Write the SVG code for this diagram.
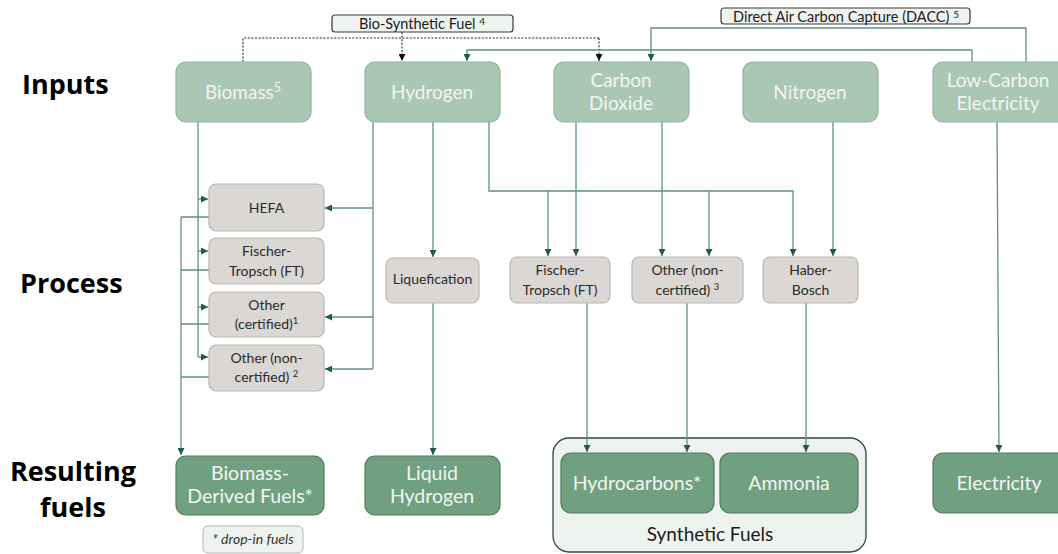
<svg xmlns="http://www.w3.org/2000/svg" width="1058" height="554" viewBox="0 0 1058 554">
<defs>
<marker id="arr" markerUnits="userSpaceOnUse" markerWidth="8" markerHeight="7" refX="7" refY="3.5" orient="auto">
<path d="M0,0 L7,3.5 L0,7 z" fill="#1f5a4f"/>
</marker>
<marker id="arrk" markerUnits="userSpaceOnUse" markerWidth="8" markerHeight="7" refX="7" refY="3.5" orient="auto">
<path d="M0,0 L7,3.5 L0,7 z" fill="#111"/>
</marker>
<style>
.row{font-family:"Open Sans",sans-serif;font-weight:bold;font-size:27px;fill:#000}
.in rect{fill:#a9c7b3;stroke:#94b49f;stroke-width:1.2}
.in text{font-family:Lato,"Liberation Sans",sans-serif;font-size:19px;fill:#f1f6f2;text-anchor:middle}
.pr rect{fill:#dbd7d4;stroke:#bab5b0;stroke-width:1.2}
.pr text{font-family:Lato,"Liberation Sans",sans-serif;font-size:14px;fill:#2a2a2a;text-anchor:middle}
.out rect{fill:#71a081;stroke:#4d7c5c;stroke-width:1.2}
.out text{font-family:Lato,"Liberation Sans",sans-serif;font-size:19.5px;fill:#f1f6f2;text-anchor:middle}
.lab rect{fill:#eef3ef;stroke:#3a3a3a;stroke-width:1.2}
.lab text{font-family:Lato,"Liberation Sans",sans-serif;font-size:14.5px;fill:#1a1a1a;text-anchor:middle}
.c{fill:none;stroke:#5e9185;stroke-width:1.3}
.ca{fill:none;stroke:#5e9185;stroke-width:1.3;marker-end:url(#arr)}
.d{fill:none;stroke:#222;stroke-width:1.1;stroke-dasharray:2,1.6}
.da{fill:none;stroke:#222;stroke-width:1.1;stroke-dasharray:2,1.6;marker-end:url(#arrk)}
</style>
</defs>
<rect width="1058" height="554" fill="#fff"/>

<g id="row-labels">
<text class="row" x="22" y="94">Inputs</text>
<text class="row" x="20" y="293">Process</text>
<text class="row" x="73" y="481" text-anchor="middle" font-size="26">Resulting</text>
<text class="row" x="73" y="517" text-anchor="middle" font-size="26">fuels</text>
</g>

<g id="container-synthetic">
<rect x="553" y="438" width="313" height="114" rx="16" fill="#eef3ef" stroke="#2d4a3a" stroke-width="1.3"/>
<text x="710" y="541" font-family="Lato,'Liberation Sans',sans-serif" font-size="19" fill="#1a1a1a" text-anchor="middle">Synthetic Fuels</text>
</g>

<g id="connectors">
<path class="d" d="M243,62 V38 H599"/>
<path class="da" d="M599,38 V61"/>
<path class="da" d="M402,32 V61"/>
<path class="ca" d="M1026,62 V28 H651 V61"/>
<path class="ca" d="M972,62 V50 H467 V61"/>
<path class="c" d="M198,122 V357"/>
<path class="ca" d="M198,199 H208"/>
<path class="ca" d="M198,251 H208"/>
<path class="ca" d="M198,307 H208"/>
<path class="ca" d="M198,357 H208"/>
<path class="c" d="M209,217 H181 M209,270 H181 M209,324 H181 M209,377 H181"/>
<path class="ca" d="M181,217 V455"/>
<path class="c" d="M373,122 V369"/>
<path class="ca" d="M373,208 H325"/>
<path class="ca" d="M373,317 H325"/>
<path class="ca" d="M373,369 H325"/>
<path class="ca" d="M433,122 V257"/>
<path class="ca" d="M433,303 V455"/>
<path class="ca" d="M489,122 V191 H793 V256"/>
<path class="ca" d="M548,191 V256"/>
<path class="ca" d="M709,191 V256"/>
<path class="ca" d="M576,122 V256"/>
<path class="ca" d="M662,122 V256"/>
<path class="ca" d="M833,122 V256"/>
<path class="ca" d="M997,122 L999,452"/>
<path class="ca" d="M587,303 V452"/>
<path class="ca" d="M687,303 V452"/>
<path class="ca" d="M806,303 V452"/>
</g>

<g id="label-biosynthetic" class="lab">
<rect x="332" y="15" width="181" height="17" rx="3"/>
<text x="422" y="28.5">Bio-Synthetic Fuel <tspan font-size="10" dy="-4">4</tspan></text>
</g>
<g id="label-dacc" class="lab">
<rect x="721" y="8" width="249" height="16" rx="3"/>
<text x="846" y="21.5">Direct Air Carbon Capture (DACC) <tspan font-size="10" dy="-4">5</tspan></text>
</g>

<g id="biomass" class="in"><rect x="176" y="62" width="135" height="60" rx="10"/><text x="243" y="99">Biomass<tspan font-size="12.5" dy="-7">5</tspan></text></g>
<g id="hydrogen" class="in"><rect x="365" y="62" width="135" height="60" rx="10"/><text x="432" y="99">Hydrogen</text></g>
<g id="carbon-dioxide" class="in"><rect x="554" y="62" width="135" height="60" rx="10"/><text x="621" y="87">Carbon</text><text x="621" y="110">Dioxide</text></g>
<g id="nitrogen" class="in"><rect x="743" y="62" width="135" height="60" rx="10"/><text x="810" y="99">Nitrogen</text></g>
<g id="low-carbon-electricity" class="in"><rect x="933" y="62" width="135" height="60" rx="10"/><text x="998" y="87">Low-Carbon</text><text x="998" y="110">Electricity</text></g>

<g id="hefa" class="pr"><rect x="209" y="184" width="115" height="47" rx="7"/><text x="266.5" y="213">HEFA</text></g>
<g id="ft-bio" class="pr"><rect x="209" y="238" width="115" height="46" rx="7"/><text x="266.5" y="256">Fischer-</text><text x="266.5" y="276">Tropsch (FT)</text></g>
<g id="other-cert" class="pr"><rect x="209" y="292" width="115" height="45" rx="7"/><text x="266.5" y="310">Other</text><text x="266.5" y="329">(certified)<tspan font-size="9.5" dy="-5">1</tspan></text></g>
<g id="other-noncert-bio" class="pr"><rect x="209" y="345" width="115" height="46" rx="7"/><text x="266.5" y="363">Other (non-</text><text x="266.5" y="382">certified) <tspan font-size="9.5" dy="-5">2</tspan></text></g>
<g id="liquefication" class="pr"><rect x="386" y="258" width="93" height="45" rx="7"/><text x="432.5" y="284" font-size="12">Liquefication</text></g>
<g id="ft-syn" class="pr"><rect x="510" y="257" width="100" height="46" rx="7"/><text x="560" y="275">Fischer-</text><text x="560" y="295">Tropsch (FT)</text></g>
<g id="other-noncert-syn" class="pr"><rect x="632" y="257" width="111" height="46" rx="7"/><text x="687.5" y="275">Other (non-</text><text x="687.5" y="295">certified) <tspan font-size="9.5" dy="-5">3</tspan></text></g>
<g id="haber-bosch" class="pr"><rect x="763" y="257" width="95" height="46" rx="7"/><text x="810.5" y="275">Haber-</text><text x="810.5" y="295">Bosch</text></g>

<g id="biomass-derived" class="out"><rect x="176" y="456" width="148" height="59" rx="10"/><text x="250" y="480">Biomass-</text><text x="250" y="503">Derived Fuels*</text></g>
<g id="liquid-hydrogen" class="out"><rect x="365" y="456" width="135" height="59" rx="10"/><text x="432" y="480">Liquid</text><text x="432" y="503">Hydrogen</text></g>
<g id="hydrocarbons" class="out"><rect x="561" y="453" width="153" height="60" rx="10"/><text x="637" y="490">Hydrocarbons*</text></g>
<g id="ammonia" class="out"><rect x="720" y="453" width="138" height="60" rx="10"/><text x="789" y="490">Ammonia</text></g>
<g id="electricity" class="out"><rect x="933" y="453" width="135" height="60" rx="10"/><text x="999" y="490">Electricity</text></g>

<g id="drop-in-note">
<rect x="203" y="526" width="100" height="27" rx="5" fill="#eef3ef" stroke="#b5b5b5" stroke-width="1"/>
<text x="253" y="544" font-family="Lato,'Liberation Sans',sans-serif" font-size="14" font-style="italic" fill="#333" text-anchor="middle">* drop-in fuels</text>
</g>
</svg>
